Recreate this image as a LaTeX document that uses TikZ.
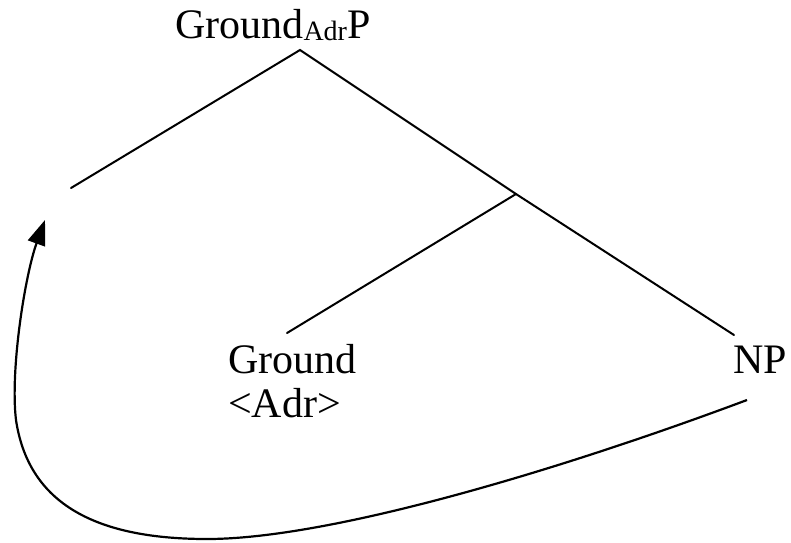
\documentclass[tikz,border=0pt]{standalone}
\usepackage{fontspec}
\setmainfont{Liberation Serif}
\usetikzlibrary{arrows.meta}
\tikzset{
  lbl/.style={inner sep=0pt, anchor=base west, font=\fontsize{42}{48}\selectfont},
  branch/.style={line width=2pt, line cap=round},
  movearrow/.style={line width=2.2pt, -{Triangle[length=25pt,width=18pt]}}
}
\begin{document}
\begin{tikzpicture}[x=1pt,y=-1pt]
\useasboundingbox (0,0) rectangle (791,542);
\node[lbl] (root) at (175,38) {Ground\raisebox{-2pt}{\fontsize{28}{28}\selectfont Adr}P};
\node[lbl] (ground) at (228,373) {Ground};
\node[lbl] (adr) at (228,417) {<Adr>};
\node[lbl] (np) at (733,373) {NP};
\coordinate (top) at (300,50);
\coordinate (spec) at (71,188);
\coordinate (bar) at (516,194);
\coordinate (gtop) at (287,333);
\coordinate (nptop) at (734,335);
\coordinate (mvstart) at (747,400);
\coordinate (mvend) at (45,220);
\draw[branch] (spec) -- (top) -- (bar) -- (nptop);
\draw[branch] (bar) -- (gtop);
\draw[movearrow] (mvstart) .. controls (560,470) and (330,539) .. (207,539)
  .. controls (90,539) and (28,500) .. (16,420)
  .. controls (10,370) and (25,275) .. (mvend);
\end{tikzpicture}
\end{document}
